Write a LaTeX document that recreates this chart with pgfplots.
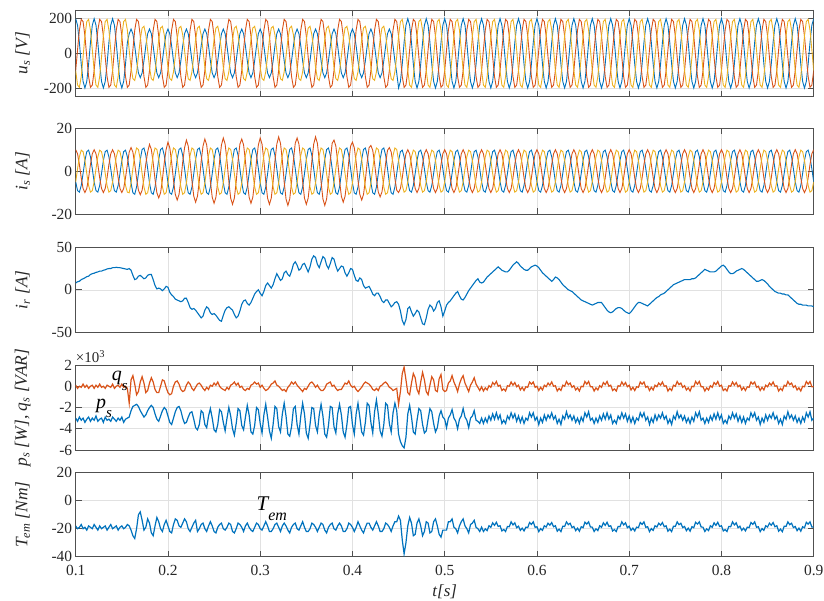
\documentclass[border=0pt]{standalone}
\usepackage{fontspec}
\setmainfont{Liberation Serif}
\usepackage{pgfplots}
\usepackage{pgfplotstable}
\pgfplotsset{compat=1.18}
\definecolor{mb}{RGB}{0,114,189}
\definecolor{mr}{RGB}{217,83,25}
\definecolor{my}{RGB}{237,177,32}
\definecolor{mg}{RGB}{225,225,225}
\definecolor{mf}{RGB}{80,80,80}
\pgfplotstableread{
t ub ur uy isr isy isb ir p q T
100 200 -100 -100 10 -5 -5 8 -3.0 0.1 -18
102 162 21 -183 8.1 1.1 -9.1 9.5 -3.3 -0.2 -20
104 62 134 -196 3.1 6.7 -9.8 10 -2.9 0.0 -19
106 -62 196 -134 -3.1 9.8 -6.7 12 -3.2 -0.1 -17
108 -162 183 -21 -8.1 9.1 -1.1 13 -3.0 0.2 -20
110 -200 100 100 -10 5 5 14 -3.4 -0.1 -19
112 -162 -21 183 -8.1 -1.1 9.1 15.5 -3.1 0.1 -21
114 -62 -134 196 -3.1 -6.7 9.8 16 -2.9 -0.2 -18
116 62 -196 134 3.1 -9.8 6.7 18 -3.3 0.0 -19
118 162 -183 21 8.1 -9.1 1.1 19 -3.0 0.1 -20
120 200 -100 -100 10 -5 -5 19.5 -3.2 -0.2 -17
122 162 21 -183 8.1 1.1 -9.1 20.5 -2.8 0.1 -19
124 62 134 -196 3.1 6.7 -9.8 21 -3.3 -0.1 -21
126 -62 196 -134 -3.1 9.8 -6.7 22 -3.1 0.2 -18
128 -162 183 -21 -8.1 9.1 -1.1 22 -3.0 -0.1 -20
130 -200 100 100 -10 5 5 23 -3.4 0.0 -19
132 -162 -21 183 -8.1 -1.1 9.1 23.5 -2.9 -0.2 -18
134 -62 -134 196 -3.1 -6.7 9.8 24.5 -3.2 0.1 -21
136 62 -196 134 3.1 -9.8 6.7 25 -3.1 0.0 -19
138 162 -183 21 8.1 -9.1 1.1 25 -3.3 -0.1 -17
140 200 -100 -100 10 -5 -5 26 -2.9 0.2 -20
142 162 21 -183 8.1 1.1 -9.1 26 -3.1 -0.2 -19
144 62 134 -196 3.1 6.7 -9.8 26.5 -3.3 0.0 -18
146 -62 196 -134 -3.1 9.8 -6.7 26 -3.0 0.1 -21
148 -162 183 -21 -8.1 9.1 -1.1 26 -3.2 -0.1 -19
150 -200 100 100 -10 5 5 25.5 -2.9 0.2 -18
152 -162 -21 183 -8.1 -1.1 9.1 25 -3.4 -0.1 -20
154 -62 -134 196 -3.1 -6.7 9.8 24.5 -3.1 0.0 -19
156 62 -196 134 3.1 -9.8 6.7 24 -3.0 -0.2 -17
158 113 -183 17 8.9 -10.1 1.2 25 -2.9 -1.6 -18
160 140 -100 -80 11 -5.5 -5.5 23 -2.3 0.6 -21
162 113 21 -146 8.9 1.2 -10.1 17 -1.9 1.0 -25
164 43 134 -156 3.4 7.4 -10.8 12 -1.8 0.2 -27
166 -43 196 -107 -3.4 10.8 -7.4 13 -1.7 -0.8 -20
168 -113 183 -17 -8.9 10.1 -1.2 16 -1.9 -0.5 -10
170 -140 100 80 -11 5.5 5.5 17 -2.3 0.4 -8
172 -113 -21 146 -8.9 -1.2 10.1 15 -2.6 0.9 -14
174 -43 -134 156 -3.4 -7.4 10.8 13 -2.9 0.3 -21
176 43 -196 107 3.4 -10.8 7.4 14 -2.7 -0.6 -19
178 113 -183 17 8.9 -10.1 1.2 17 -2.3 -0.4 -13
180 140 -100 -80 12.5 -5.5 -5.5 18 -2.0 0.3 -16
182 113 21 -146 10.1 1.2 -10.1 18 -1.8 0.8 -23
184 43 134 -156 3.9 7.4 -10.8 12 -2.0 0.4 -25
186 -43 196 -107 -3.9 10.8 -7.4 5 -2.6 -0.3 -18
188 -113 183 -17 -10.1 10.1 -1.2 1 -3.1 -0.6 -12
190 -140 100 80 -12.5 5.5 5.5 2 -3.3 -0.6 -15
192 -113 -21 146 -10.1 -1.2 10.1 1 -2.8 0.0 -20
194 -43 -134 156 -3.9 -7.4 10.8 -1 -2.3 0.6 -22
196 43 -196 107 3.9 -10.8 7.4 1 -2.0 0.5 -17
198 113 -183 17 10.1 -10.1 1.2 4 -2.2 -0.1 -14
200 140 -100 -80 13.5 -5.5 -5.5 3 -2.8 -0.6 -18
202 113 21 -146 10.9 1.2 -10.1 -3 -3.4 -0.8 -22
204 43 134 -156 4.2 7.4 -10.8 -6 -3.6 -0.7 -23
206 -43 196 -107 -4.2 10.8 -7.4 -8 -3.0 0.0 -17
208 -113 183 -17 -10.9 10.1 -1.2 -11 -2.4 0.4 -13
210 -140 100 80 -13.5 5.5 5.5 -12 -2.0 0.5 -14
212 -113 -21 146 -10.9 -1.2 10.1 -13 -1.9 0.2 -18
214 -43 -134 156 -4.2 -7.4 10.8 -14 -2.3 -0.3 -19
216 43 -196 107 4.2 -10.8 7.4 -13 -3.0 -0.5 -16
218 113 -183 17 10.9 -10.1 1.2 -10 -3.5 -0.4 -13
220 140 -100 -80 14.5 -5.5 -5.5 -10 -3.4 0.1 -15
222 113 21 -146 11.7 1.2 -10.1 -15 -2.9 0.4 -20
224 43 134 -156 4.5 7.4 -10.8 -21 -2.5 0.2 -22
226 -43 196 -107 -4.5 10.8 -7.4 -23 -2.4 -0.2 -19
228 -113 183 -17 -11.7 10.1 -1.2 -22 -3.1 -0.4 -16
230 -140 100 80 -14.5 5.5 5.5 -24 -3.9 -0.1 -14
232 -113 -21 146 -11.7 -1.2 10.1 -27 -4.1 0.2 -22
234 -43 -134 156 -4.5 -7.4 10.8 -30 -3.6 0.3 -20
236 43 -196 107 4.5 -10.8 7.4 -33 -2.3 0.1 -17
238 113 -183 17 11.7 -10.1 1.2 -31 -2.5 -0.2 -16
240 140 -100 -80 15 -5.5 -5.5 -24 -3.6 -0.4 -20
242 113 21 -146 12.2 1.2 -10.1 -20 -3.9 -0.1 -22
244 43 134 -156 4.7 7.4 -10.8 -22 -2.8 -0.3 -18
246 -43 196 -107 -4.7 10.8 -7.4 -27 -2.1 0.1 -15
248 -113 183 -17 -12.2 10.1 -1.2 -29 -3.0 0.0 -18
250 -140 100 80 -15 5.5 5.5 -28 -4.1 0.3 -22
252 -113 -21 146 -12.2 -1.2 10.1 -30 -4.3 0.1 -23
254 -43 -134 156 -4.7 -7.4 10.8 -33 -3.6 0.4 -19
256 43 -196 107 4.7 -10.8 7.4 -36 -2.2 0.0 -17
258 113 -183 17 12.2 -10.1 1.2 -37 -2.4 -0.2 -16
260 140 -100 -80 15.5 -5.5 -5.5 -30 -3.4 -0.3 -20
262 113 21 -146 12.6 1.2 -10.1 -24 -4.2 -0.4 -21
264 43 134 -156 4.8 7.4 -10.8 -21 -3.0 -0.1 -19
266 -43 196 -107 -4.8 10.8 -7.4 -20 -2.0 -0.3 -16
268 -113 183 -17 -12.6 10.1 -1.2 -22 -2.8 0.1 -17
270 -140 100 80 -15.5 5.5 5.5 -24 -4.0 0.2 -22
272 -113 -21 146 -12.6 -1.2 10.1 -29 -4.6 0.4 -23
274 -43 -134 156 -4.8 -7.4 10.8 -33 -3.5 0.1 -20
276 43 -196 107 4.8 -10.8 7.4 -31 -2.1 0.3 -16
278 113 -183 17 12.6 -10.1 1.2 -25 -2.3 -0.1 -17
280 140 -100 -80 15 -5.5 -5.5 -17 -3.7 0.0 -19
282 113 21 -146 12.2 1.2 -10.1 -13 -4.1 -0.3 -22
284 43 134 -156 4.7 7.4 -10.8 -12 -2.9 -0.4 -18
286 -43 196 -107 -4.7 10.8 -7.4 -16 -1.8 -0.2 -16
288 -113 183 -17 -12.2 10.1 -1.2 -18 -2.7 -0.3 -19
290 -140 100 80 -15 5.5 5.5 -15 -4.3 0.1 -21
292 -113 -21 146 -12.2 -1.2 10.1 -10 -4.5 0.2 -22
294 -43 -134 156 -4.7 -7.4 10.8 -5 -3.7 0.4 -19
296 43 -196 107 4.7 -10.8 7.4 -2 -2.0 0.2 -16
298 113 -183 17 12.2 -10.1 1.2 0 -2.2 0.3 -17
300 140 -100 -80 15.5 -5.5 -5.5 -4 -3.5 -0.1 -20
302 113 21 -146 12.6 1.2 -10.1 -7 -4.4 0.1 -21
304 43 134 -156 4.8 7.4 -10.8 -2 -2.7 -0.2 -18
306 -43 196 -107 -4.8 10.8 -7.4 5 -1.7 -0.4 -15
308 -113 183 -17 -12.6 10.1 -1.2 8 -2.9 -0.3 -18
310 -140 100 80 -15.5 5.5 5.5 5 -4.2 -0.1 -22
312 -113 -21 146 -12.6 -1.2 10.1 2 -4.9 0.2 -22
314 -43 -134 156 -4.8 -7.4 10.8 6 -3.6 0.3 -20
316 43 -196 107 4.8 -10.8 7.4 13 -1.9 0.5 -17
318 113 -183 17 12.6 -10.1 1.2 19 -2.1 0.1 -16
320 140 -100 -80 16 -5.5 -5.5 15 -3.8 0.0 -19
322 113 21 -146 13 1.2 -10.1 11 -4.3 -0.2 -22
324 43 134 -156 5 7.4 -10.8 13 -2.6 -0.4 -18
326 -43 196 -107 -5 10.8 -7.4 20 -1.6 -0.3 -16
328 -113 183 -17 -13 10.1 -1.2 22 -2.8 -0.5 -18
330 -140 100 80 -16 5.5 5.5 18 -4.5 -0.1 -21
332 -113 -21 146 -13 -1.2 10.1 16 -4.7 0.1 -23
334 -43 -134 156 -5 -7.4 10.8 22 -3.8 0.4 -19
336 43 -196 107 5 -10.8 7.4 30 -2.1 0.2 -17
338 113 -183 17 13 -10.1 1.2 33 -1.9 0.4 -16
340 140 -100 -80 15.5 -5.5 -5.5 29 -3.6 0.1 -20
342 113 21 -146 12.6 1.2 -10.1 23 -4.5 -0.1 -21
344 43 134 -156 4.8 7.4 -10.8 25 -2.8 -0.3 -18
346 -43 196 -107 -4.8 10.8 -7.4 30 -1.6 -0.5 -15
348 -113 183 -17 -12.6 10.1 -1.2 31 -2.6 -0.2 -19
350 -140 100 80 -15.5 5.5 5.5 26 -4.4 -0.3 -22
352 -113 -21 146 -12.6 -1.2 10.1 21 -4.9 0.0 -22
354 -43 -134 156 -4.8 -7.4 10.8 27 -3.6 0.3 -20
356 43 -196 107 4.8 -10.8 7.4 36 -2.0 0.4 -16
358 113 -183 17 12.6 -10.1 1.2 40 -2.1 0.2 -17
360 140 -100 -80 16 -5.5 -5.5 38 -3.7 -0.1 -19
362 113 21 -146 13 1.2 -10.1 30 -4.3 0.1 -22
364 43 134 -156 5 7.4 -10.8 26 -2.7 -0.2 -19
366 -43 196 -107 -5 10.8 -7.4 33 -1.7 -0.4 -16
368 -113 183 -17 -13 10.1 -1.2 39 -2.8 -0.4 -17
370 -140 100 80 -16 5.5 5.5 37 -4.5 -0.2 -21
372 -113 -21 146 -13 -1.2 10.1 29 -4.8 0.2 -23
374 -43 -134 156 -5 -7.4 10.8 25 -3.7 0.3 -19
376 43 -196 107 5 -10.8 7.4 31 -1.9 0.4 -17
378 113 -183 17 13 -10.1 1.2 38 -2.0 0.0 -16
380 140 -100 -80 14.5 -5.5 -5.5 36 -3.8 0.1 -20
382 113 21 -146 11.7 1.2 -10.1 28 -4.4 -0.2 -21
384 43 134 -156 4.5 7.4 -10.8 22 -2.6 -0.4 -18
386 -43 196 -107 -4.5 10.8 -7.4 25 -1.7 -0.3 -16
388 -113 183 -17 -11.7 10.1 -1.2 28 -2.7 -0.3 -18
390 -140 100 80 -14.5 5.5 5.5 27 -4.3 0.0 -22
392 -113 -21 146 -11.7 -1.2 10.1 20 -4.8 0.3 -22
394 -43 -134 156 -4.5 -7.4 10.8 16 -3.6 0.2 -20
396 43 -196 107 4.5 -10.8 7.4 20 -2.0 0.5 -16
398 113 -183 17 11.7 -10.1 1.2 25 -1.9 0.1 -17
400 140 -100 -80 13.5 -5.5 -5.5 24 -3.6 -0.1 -19
402 113 21 -146 10.9 1.2 -10.1 17 -4.5 0.0 -22
404 43 134 -156 4.2 7.4 -10.8 11 -2.6 -0.3 -19
406 -43 196 -107 -4.2 10.8 -7.4 10 -1.6 -0.5 -15
408 -113 183 -17 -10.9 10.1 -1.2 14 -2.9 -0.3 -18
410 -140 100 80 -13.5 5.5 5.5 12 -4.3 -0.1 -21
412 -113 -21 146 -10.9 -1.2 10.1 5 -4.6 0.2 -23
414 -43 -134 156 -4.2 -7.4 10.8 2 -3.4 0.4 -19
416 43 -196 107 4.2 -10.8 7.4 3 -1.6 0.3 -16
418 113 -183 17 10.9 -10.1 1.2 4 -1.8 0.2 -16
420 140 -100 -80 12 -5.5 -5.5 0 -3.4 0.0 -19
422 113 21 -146 9.7 1.2 -10.1 -5 -4.4 -0.3 -21
424 43 134 -156 3.7 7.4 -10.8 -7 -2.4 -0.4 -18
426 -43 196 -107 -3.7 10.8 -7.4 -4 -1.3 -0.2 -15
428 -113 183 -17 -9.7 10.1 -1.2 -4 -2.6 -0.4 -18
430 -140 100 80 -12 5.5 5.5 -8 -4.2 0.0 -22
432 -113 -21 146 -9.7 -1.2 10.1 -13 -4.7 0.1 -22
434 -43 -134 156 -3.7 -7.4 10.8 -15 -3.6 0.3 -20
436 43 -196 107 3.7 -10.8 7.4 -12 -1.6 0.4 -16
438 113 -183 17 9.7 -10.1 1.2 -12 -1.8 0.2 -17
440 140 -100 -80 11 -5.5 -5.5 -16 -3.5 -0.1 -19
442 113 21 -146 8.9 1.2 -10.1 -20 -4.3 -0.2 -22
444 43 134 -156 3.4 7.4 -10.8 -18 -2.5 -0.4 -18
446 -43 196 -107 -3.4 10.8 -7.4 -15 -1.6 -0.3 -15
448 -113 183 -17 -8.9 10.1 -1.2 -14 -2.3 -0.2 -15
450 -200 100 100 -10 5 5 -17 -4.5 -1.7 -11
452 -162 -21 183 -8.1 -1.1 9.1 -25 -5.2 -0.5 -14
454 -62 -134 196 -3.1 -6.7 9.8 -36 -5.6 1.2 -28
456 62 -196 134 3.1 -9.8 6.7 -41 -5.8 1.8 -38
458 162 -183 21 8.1 -9.1 1.1 -35 -4.8 0.6 -30
460 200 -100 -100 10 -5 -5 -22 -2.6 -0.6 -18
462 162 21 -183 8.1 1.1 -9.1 -20 -1.8 -0.8 -12
464 62 134 -196 3.1 6.7 -9.8 -26 -2.9 0.3 -16
466 -62 196 -134 -3.1 9.8 -6.7 -31 -4.3 1.2 -25
468 -162 183 -21 -8.1 9.1 -1.1 -28 -4.5 0.8 -24
470 -200 100 100 -10 5 5 -24 -3.2 -0.3 -16
472 -162 -21 183 -8.1 -1.1 9.1 -26 -2.1 -0.7 -13
474 -62 -134 196 -3.1 -6.7 9.8 -33 -2.3 0.4 -18
476 62 -196 134 3.1 -9.8 6.7 -40 -3.6 1.3 -25
478 162 -183 21 8.1 -9.1 1.1 -41 -4.4 0.6 -22
480 200 -100 -100 10 -5 -5 -33 -4.2 -0.5 -15
482 162 21 -183 8.1 1.1 -9.1 -23 -3.1 -0.8 -16
484 62 134 -196 3.1 6.7 -9.8 -18 -2.1 0.1 -23
486 -62 196 -134 -3.1 9.8 -6.7 -20 -2.4 0.9 -22
488 -162 183 -21 -8.1 9.1 -1.1 -25 -3.5 0.6 -15
490 -200 100 100 -10 5 5 -22 -4.3 -0.4 -13
492 -162 -21 183 -8.1 -1.1 9.1 -15 -3.9 -0.5 -18
494 -62 -134 196 -3.1 -6.7 9.8 -13 -2.8 0.7 -24
496 62 -196 134 3.1 -9.8 6.7 -20 -2.3 1.1 -26
498 162 -183 21 8.1 -9.1 1.1 -31 -2.9 -0.3 -21
500 200 -100 -100 10 -5 -5 -25 -3.1 -0.5 -21
502 162 21 -183 8.1 1.1 -9.1 -18 -3.9 -0.4 -21
504 62 134 -196 3.1 6.7 -9.8 -15 -3.0 0.3 -15
506 -62 196 -134 -3.1 9.8 -6.7 -13 -2.7 0.5 -15
508 -162 183 -21 -8.1 9.1 -1.1 -10 -2.2 1.0 -13
510 -200 100 100 -10 5 5 -7 -3.0 0.4 -19
512 -162 -21 183 -8.1 -1.1 9.1 -4 -3.3 0.0 -20
514 -62 -134 196 -3.1 -6.7 9.8 -2 -4.0 -0.5 -23
516 62 -196 134 3.1 -9.8 6.7 -7 -3.1 0.2 -18
518 162 -183 21 8.1 -9.1 1.1 -11 -2.8 0.7 -15
520 200 -100 -100 10 -5 -5 -12 -2.1 1.0 -13
522 162 21 -183 8.1 1.1 -9.1 -9 -2.9 0.3 -18
524 62 134 -196 3.1 6.7 -9.8 -5 -3.2 -0.1 -20
526 -62 196 -134 -3.1 9.8 -6.7 -1 -3.9 -0.5 -23
528 -162 183 -21 -8.1 9.1 -1.1 2 -3.0 0.1 -17
530 -200 100 100 -10 5 5 5 -2.8 0.4 -16
532 -162 -21 183 -8.1 -1.1 9.1 8 -2.3 0.8 -14
534 -62 -134 196 -3.1 -6.7 9.8 11 -3.2 0.2 -19
536 62 -196 134 3.1 -9.8 6.7 13 -3.3 -0.1 -20
538 162 -183 21 8.1 -9.1 1.1 9 -3.5 -0.4 -22
540 200 -100 -100 10 -5 -5 8 -3.0 -0.05 -18.9
542 162 21 -183 8.1 1.1 -9.1 9 -3.5 -0.45 -22.0
544 62 134 -196 3.1 6.7 -9.8 12 -3.0 -0.15 -20.1
546 -62 196 -134 -3.1 9.8 -6.7 15 -3.4 -0.35 -21.4
548 -162 183 -21 -8.1 9.1 -1.1 17 -2.8 0.05 -17.9
550 -200 100 100 -10 5 5 19 -3.2 -0.1 -19.0
552 -162 -21 183 -8.1 -1.1 9.1 21 -2.6 0.35 -15.8
554 -62 -134 196 -3.1 -6.7 9.8 23 -3.1 0.15 -17.6
556 62 -196 134 3.1 -9.8 6.7 25 -2.5 0.45 -15.4
558 162 -183 21 8.1 -9.1 1.1 27 -3.1 0.0 -18.4
560 200 -100 -100 10 -5 -5 25 -2.7 0.1 -17.9
562 162 21 -183 8.1 1.1 -9.1 23 -3.5 -0.4 -21.6
564 62 134 -196 3.1 6.7 -9.8 22 -3.2 -0.25 -20.6
566 -62 196 -134 -3.1 9.8 -6.7 21 -3.5 -0.45 -22.0
568 -162 183 -21 -8.1 9.1 -1.1 21 -2.8 0.05 -18.4
570 -200 100 100 -10 5 5 23 -3.1 0.0 -18.6
572 -162 -21 183 -8.1 -1.1 9.1 26 -2.5 0.4 -15.1
574 -62 -134 196 -3.1 -6.7 9.8 29 -3.0 0.1 -17.3
576 62 -196 134 3.1 -9.8 6.7 31 -2.6 0.35 -15.8
578 162 -183 21 8.1 -9.1 1.1 33 -3.3 -0.05 -19.3
580 200 -100 -100 10 -5 -5 31 -2.8 0.1 -18.2
582 162 21 -183 8.1 1.1 -9.1 28 -3.4 -0.35 -21.2
584 62 134 -196 3.1 6.7 -9.8 26 -2.9 -0.1 -19.6
586 -62 196 -134 -3.1 9.8 -6.7 24 -3.5 -0.4 -21.6
588 -162 183 -21 -8.1 9.1 -1.1 23 -3.0 -0.05 -18.9
590 -200 100 100 -10 5 5 23 -3.2 -0.1 -19.2
592 -162 -21 183 -8.1 -1.1 9.1 25 -2.5 0.4 -15.6
594 -62 -134 196 -3.1 -6.7 9.8 27 -2.9 0.2 -16.9
596 62 -196 134 3.1 -9.8 6.7 28 -2.5 0.4 -15.1
598 162 -183 21 8.1 -9.1 1.1 29 -3.2 -0.1 -19.0
600 200 -100 -100 10 -5 -5 28 -2.9 0.0 -18.6
602 162 21 -183 8.1 1.1 -9.1 26 -3.6 -0.4 -22.1
604 62 134 -196 3.1 6.7 -9.8 23 -3.0 -0.1 -19.9
606 -62 196 -134 -3.1 9.8 -6.7 20 -3.4 -0.35 -21.2
608 -162 183 -21 -8.1 9.1 -1.1 18 -2.7 0.1 -17.9
610 -200 100 100 -10 5 5 16 -3.2 -0.05 -18.8
612 -162 -21 183 -8.1 -1.1 9.1 14 -2.7 0.3 -16.1
614 -62 -134 196 -3.1 -6.7 9.8 12 -3.0 0.1 -17.5
616 62 -196 134 3.1 -9.8 6.7 10 -2.5 0.4 -15.6
618 162 -183 21 8.1 -9.1 1.1 12 -3.1 0.0 -18.6
620 200 -100 -100 10 -5 -5 15 -2.8 0.05 -17.9
622 162 21 -183 8.1 1.1 -9.1 14 -3.5 -0.45 -21.8
624 62 134 -196 3.1 6.7 -9.8 12 -3.1 -0.2 -20.3
626 -62 196 -134 -3.1 9.8 -6.7 9 -3.6 -0.4 -22.1
628 -162 183 -21 -8.1 9.1 -1.1 6 -2.8 0.1 -18.2
630 -200 100 100 -10 5 5 4 -3.1 0.0 -18.4
632 -162 -21 183 -8.1 -1.1 9.1 2 -2.4 0.45 -15.1
634 -62 -134 196 -3.1 -6.7 9.8 0 -3.0 0.15 -17.1
636 62 -196 134 3.1 -9.8 6.7 -1 -2.7 0.3 -16.1
638 162 -183 21 8.1 -9.1 1.1 -2 -3.2 -0.1 -19.2
640 200 -100 -100 10 -5 -5 -4 -2.8 0.05 -18.4
642 162 21 -183 8.1 1.1 -9.1 -6 -3.4 -0.35 -21.4
644 62 134 -196 3.1 6.7 -9.8 -8 -3.0 -0.15 -19.6
646 -62 196 -134 -3.1 9.8 -6.7 -10 -3.5 -0.45 -21.8
648 -162 183 -21 -8.1 9.1 -1.1 -12 -2.9 0.0 -18.6
650 -200 100 100 -10 5 5 -13 -3.3 -0.05 -19.3
652 -162 -21 183 -8.1 -1.1 9.1 -14 -2.5 0.45 -15.4
654 -62 -134 196 -3.1 -6.7 9.8 -15 -2.9 0.2 -16.7
656 62 -196 134 3.1 -9.8 6.7 -16 -2.4 0.45 -15.1
658 162 -183 21 8.1 -9.1 1.1 -17 -3.2 -0.05 -18.8
660 200 -100 -100 10 -5 -5 -18 -3.0 -0.05 -18.9
662 162 21 -183 8.1 1.1 -9.1 -17 -3.5 -0.45 -22.0
664 62 134 -196 3.1 6.7 -9.8 -16 -3.0 -0.15 -20.1
666 -62 196 -134 -3.1 9.8 -6.7 -15 -3.4 -0.35 -21.4
668 -162 183 -21 -8.1 9.1 -1.1 -15 -2.8 0.05 -17.9
670 -200 100 100 -10 5 5 -15 -3.2 -0.1 -19.0
672 -162 -21 183 -8.1 -1.1 9.1 -18 -2.6 0.35 -15.8
674 -62 -134 196 -3.1 -6.7 9.8 -21 -3.1 0.15 -17.6
676 62 -196 134 3.1 -9.8 6.7 -24 -2.5 0.45 -15.4
678 162 -183 21 8.1 -9.1 1.1 -26 -3.1 0.0 -18.4
680 200 -100 -100 10 -5 -5 -27 -2.7 0.1 -17.9
682 162 21 -183 8.1 1.1 -9.1 -26 -3.5 -0.4 -21.6
684 62 134 -196 3.1 6.7 -9.8 -24 -3.2 -0.25 -20.6
686 -62 196 -134 -3.1 9.8 -6.7 -22 -3.5 -0.45 -22.0
688 -162 183 -21 -8.1 9.1 -1.1 -21 -2.8 0.05 -18.4
690 -200 100 100 -10 5 5 -21 -3.1 0.0 -18.6
692 -162 -21 183 -8.1 -1.1 9.1 -22 -2.5 0.4 -15.1
694 -62 -134 196 -3.1 -6.7 9.8 -24 -3.0 0.1 -17.3
696 62 -196 134 3.1 -9.8 6.7 -26 -2.6 0.35 -15.8
698 162 -183 21 8.1 -9.1 1.1 -27 -3.3 -0.05 -19.3
700 200 -100 -100 10 -5 -5 -28 -2.8 0.1 -18.2
702 162 21 -183 8.1 1.1 -9.1 -26 -3.4 -0.35 -21.2
704 62 134 -196 3.1 6.7 -9.8 -23 -2.9 -0.1 -19.6
706 -62 196 -134 -3.1 9.8 -6.7 -20 -3.5 -0.4 -21.6
708 -162 183 -21 -8.1 9.1 -1.1 -17 -3.0 -0.05 -18.9
710 -200 100 100 -10 5 5 -15 -3.2 -0.1 -19.2
712 -162 -21 183 -8.1 -1.1 9.1 -15 -2.5 0.4 -15.6
714 -62 -134 196 -3.1 -6.7 9.8 -16 -2.9 0.2 -16.9
716 62 -196 134 3.1 -9.8 6.7 -17 -2.5 0.4 -15.1
718 162 -183 21 8.1 -9.1 1.1 -18 -3.2 -0.1 -19.0
720 200 -100 -100 10 -5 -5 -19 -2.9 0.0 -18.6
722 162 21 -183 8.1 1.1 -9.1 -17 -3.6 -0.4 -22.1
724 62 134 -196 3.1 6.7 -9.8 -15 -3.0 -0.1 -19.9
726 -62 196 -134 -3.1 9.8 -6.7 -13 -3.4 -0.35 -21.2
728 -162 183 -21 -8.1 9.1 -1.1 -11 -2.7 0.1 -17.9
730 -200 100 100 -10 5 5 -9 -3.2 -0.05 -18.8
732 -162 -21 183 -8.1 -1.1 9.1 -8 -2.7 0.3 -16.1
734 -62 -134 196 -3.1 -6.7 9.8 -6 -3.0 0.1 -17.5
736 62 -196 134 3.1 -9.8 6.7 -5 -2.5 0.4 -15.6
738 162 -183 21 8.1 -9.1 1.1 -4 -3.1 0.0 -18.6
740 200 -100 -100 10 -5 -5 -2 -2.8 0.05 -17.9
742 162 21 -183 8.1 1.1 -9.1 0 -3.5 -0.45 -21.8
744 62 134 -196 3.1 6.7 -9.8 2 -3.1 -0.2 -20.3
746 -62 196 -134 -3.1 9.8 -6.7 4 -3.6 -0.4 -22.1
748 -162 183 -21 -8.1 9.1 -1.1 6 -2.8 0.1 -18.2
750 -200 100 100 -10 5 5 7 -3.1 0.0 -18.4
752 -162 -21 183 -8.1 -1.1 9.1 8 -2.4 0.45 -15.1
754 -62 -134 196 -3.1 -6.7 9.8 9 -3.0 0.15 -17.1
756 62 -196 134 3.1 -9.8 6.7 10 -2.7 0.3 -16.1
758 162 -183 21 8.1 -9.1 1.1 11 -3.2 -0.1 -19.2
760 200 -100 -100 10 -5 -5 12 -2.8 0.05 -18.4
762 162 21 -183 8.1 1.1 -9.1 12 -3.4 -0.35 -21.4
764 62 134 -196 3.1 6.7 -9.8 12 -3.0 -0.15 -19.6
766 -62 196 -134 -3.1 9.8 -6.7 12 -3.5 -0.45 -21.8
768 -162 183 -21 -8.1 9.1 -1.1 13 -2.9 0.0 -18.6
770 -200 100 100 -10 5 5 13 -3.3 -0.05 -19.3
772 -162 -21 183 -8.1 -1.1 9.1 14 -2.5 0.45 -15.4
774 -62 -134 196 -3.1 -6.7 9.8 16 -2.9 0.2 -16.7
776 62 -196 134 3.1 -9.8 6.7 18 -2.4 0.45 -15.1
778 162 -183 21 8.1 -9.1 1.1 20 -3.2 -0.05 -18.8
780 200 -100 -100 10 -5 -5 22 -3.0 -0.05 -18.9
782 162 21 -183 8.1 1.1 -9.1 24 -3.5 -0.45 -22.0
784 62 134 -196 3.1 6.7 -9.8 23 -3.0 -0.15 -20.1
786 -62 196 -134 -3.1 9.8 -6.7 22 -3.4 -0.35 -21.4
788 -162 183 -21 -8.1 9.1 -1.1 21 -2.8 0.05 -17.9
790 -200 100 100 -10 5 5 21 -3.2 -0.1 -19.0
792 -162 -21 183 -8.1 -1.1 9.1 21 -2.6 0.35 -15.8
794 -62 -134 196 -3.1 -6.7 9.8 22 -3.1 0.15 -17.6
796 62 -196 134 3.1 -9.8 6.7 24 -2.5 0.45 -15.4
798 162 -183 21 8.1 -9.1 1.1 26 -3.1 0.0 -18.4
800 200 -100 -100 10 -5 -5 28 -2.7 0.1 -17.9
802 162 21 -183 8.1 1.1 -9.1 29 -3.5 -0.4 -21.6
804 62 134 -196 3.1 6.7 -9.8 27 -3.2 -0.25 -20.6
806 -62 196 -134 -3.1 9.8 -6.7 24 -3.5 -0.45 -22.0
808 -162 183 -21 -8.1 9.1 -1.1 21 -2.8 0.05 -18.4
810 -200 100 100 -10 5 5 19 -3.1 0.0 -18.6
812 -162 -21 183 -8.1 -1.1 9.1 19 -2.5 0.4 -15.1
814 -62 -134 196 -3.1 -6.7 9.8 20 -3.0 0.1 -17.3
816 62 -196 134 3.1 -9.8 6.7 22 -2.6 0.35 -15.8
818 162 -183 21 8.1 -9.1 1.1 23 -3.3 -0.05 -19.3
820 200 -100 -100 10 -5 -5 24 -2.8 0.1 -18.2
822 162 21 -183 8.1 1.1 -9.1 25 -3.4 -0.35 -21.2
824 62 134 -196 3.1 6.7 -9.8 24 -2.9 -0.1 -19.6
826 -62 196 -134 -3.1 9.8 -6.7 22 -3.5 -0.4 -21.6
828 -162 183 -21 -8.1 9.1 -1.1 20 -3.0 -0.05 -18.9
830 -200 100 100 -10 5 5 18 -3.2 -0.1 -19.2
832 -162 -21 183 -8.1 -1.1 9.1 16 -2.5 0.4 -15.6
834 -62 -134 196 -3.1 -6.7 9.8 14 -2.9 0.2 -16.9
836 62 -196 134 3.1 -9.8 6.7 12 -2.5 0.4 -15.1
838 162 -183 21 8.1 -9.1 1.1 10 -3.2 -0.1 -19.0
840 200 -100 -100 10 -5 -5 10 -2.9 0.0 -18.6
842 162 21 -183 8.1 1.1 -9.1 11 -3.6 -0.4 -22.1
844 62 134 -196 3.1 6.7 -9.8 12 -3.0 -0.1 -19.9
846 -62 196 -134 -3.1 9.8 -6.7 11 -3.4 -0.35 -21.2
848 -162 183 -21 -8.1 9.1 -1.1 9 -2.7 0.1 -17.9
850 -200 100 100 -10 5 5 7 -3.2 -0.05 -18.8
852 -162 -21 183 -8.1 -1.1 9.1 4 -2.7 0.3 -16.1
854 -62 -134 196 -3.1 -6.7 9.8 2 -3.0 0.1 -17.5
856 62 -196 134 3.1 -9.8 6.7 0 -2.5 0.4 -15.6
858 162 -183 21 8.1 -9.1 1.1 -2 -3.1 0.0 -18.6
860 200 -100 -100 10 -5 -5 -3 -2.8 0.05 -17.9
862 162 21 -183 8.1 1.1 -9.1 -4 -3.5 -0.45 -21.8
864 62 134 -196 3.1 6.7 -9.8 -4 -3.1 -0.2 -20.3
866 -62 196 -134 -3.1 9.8 -6.7 -5 -3.6 -0.4 -22.1
868 -162 183 -21 -8.1 9.1 -1.1 -5 -2.8 0.1 -18.2
870 -200 100 100 -10 5 5 -6 -3.1 0.0 -18.4
872 -162 -21 183 -8.1 -1.1 9.1 -6 -2.4 0.45 -15.1
874 -62 -134 196 -3.1 -6.7 9.8 -8 -3.0 0.15 -17.1
876 62 -196 134 3.1 -9.8 6.7 -10 -2.7 0.3 -16.1
878 162 -183 21 8.1 -9.1 1.1 -12 -3.2 -0.1 -19.2
880 200 -100 -100 10 -5 -5 -14 -2.8 0.05 -18.4
882 162 21 -183 8.1 1.1 -9.1 -16 -3.4 -0.35 -21.4
884 62 134 -196 3.1 6.7 -9.8 -17 -3.0 -0.15 -19.6
886 -62 196 -134 -3.1 9.8 -6.7 -17 -3.5 -0.45 -21.8
888 -162 183 -21 -8.1 9.1 -1.1 -18 -2.9 0.0 -18.6
890 -200 100 100 -10 5 5 -18 -3.3 -0.05 -19.3
892 -162 -21 183 -8.1 -1.1 9.1 -18 -2.5 0.45 -15.4
894 -62 -134 196 -3.1 -6.7 9.8 -19 -2.9 0.2 -16.7
896 62 -196 134 3.1 -9.8 6.7 -19 -2.4 0.45 -15.1
898 162 -183 21 8.1 -9.1 1.1 -19 -3.2 -0.05 -18.8
900 200 -100 -100 10 -5 -5 -20 -3.0 -0.05 -18.9
}\data
\pgfplotsset{
  base/.style={
    scale only axis, width=738bp, xmin=100, xmax=900,
    xtick={100,200,...,900}, xticklabels={},
    grid=major, grid style={mg, line width=0.5bp},
    axis line style={mf, line width=0.6bp},
    tick style={mf, line width=0.6bp},
    major tick length=6bp, tick align=inside,
    yticklabel style={font=\fontsize{15.5}{15.5}\selectfont, text=black!85},
    xticklabel style={font=\fontsize{15.5}{15.5}\selectfont, text=black!85},
    /pgf/number format/assume math mode=true,
    every axis y label/.style={at={(axis description cs:0,0.5)}, xshift=-53bp, rotate=90, anchor=center, font=\fontsize{17.5}{17.5}\selectfont\itshape, text=black!85},
  }
}
\begin{document}
\begin{tikzpicture}
\useasboundingbox (0,0) rectangle (824bp,601bp);
\begin{axis}[base, at={(75.7bp,504.3bp)}, height=86.7bp, ymin=-250, ymax=250, ytick={-200,0,200}, ylabel={u\textsubscript{s} [V]}]
\addplot[mb, line width=0.9bp] table[x=t,y=ub]{\data};
\addplot[mr, line width=0.9bp] table[x=t,y=ur]{\data};
\addplot[my, line width=0.9bp] table[x=t,y=uy]{\data};
\end{axis}
\begin{axis}[base, at={(75.7bp,387bp)}, height=85.7bp, ymin=-20, ymax=20, ytick={-20,0,20}, ylabel={i\textsubscript{s} [A]}]
\addplot[mb, line width=0.9bp] table[x=t,y=isb]{\data};
\addplot[mr, line width=0.9bp] table[x=t,y=isr]{\data};
\addplot[my, line width=0.9bp] table[x=t,y=isy]{\data};
\end{axis}
\begin{axis}[base, at={(75.7bp,268.7bp)}, height=85bp, ymin=-50, ymax=50, ytick={-50,0,50}, ylabel={i\textsubscript{r} [A]}]
\addplot[mb, line width=1.1bp] table[x=t,y=ir]{\data};
\end{axis}
\begin{axis}[base, name=a4, at={(75.7bp,151bp)}, height=85bp, ymin=-6, ymax=2, ytick={-6,-4,-2,0,2}, ylabel={p\textsubscript{s} [W], q\textsubscript{s} [VAR]}]
\addplot[mb, line width=1.2bp] table[x=t,y=p]{\data};
\addplot[mr, line width=1.2bp] table[x=t,y=q]{\data};
\node[anchor=base west, inner sep=0, font=\fontsize{20}{20}\selectfont\itshape] at (axis cs:139,0.56) {q\raisebox{-0.5em}{\fontsize{15}{15}\selectfont s}};
\node[anchor=base west, inner sep=0, font=\fontsize{20}{20}\selectfont\itshape] at (axis cs:122,-2.14) {p\raisebox{-0.45em}{\fontsize{15}{15}\selectfont s}};
\end{axis}
\node[anchor=south west, inner sep=0, font=\fontsize{15}{15}\selectfont, text=black!85] at ([yshift=2bp]a4.north west) {×10\textsuperscript{3}};
\begin{axis}[base, at={(75.7bp,44.3bp)}, height=84bp, ymin=-40, ymax=20, ytick={-40,-20,0,20}, ylabel={T\textsubscript{em} [Nm]},
  xticklabels={0.1,0.2,0.3,0.4,0.5,0.6,0.7,0.8,0.9}, xticklabel style={yshift=-5bp},
  xlabel={t[s]}, xlabel style={at={(axis description cs:0.5,0)}, yshift=-35bp, anchor=center, font=\fontsize{17}{17}\selectfont\itshape, text=black!85}]
\addplot[mb, line width=1.2bp] table[x=t,y=T]{\data};
\node[anchor=base west, inner sep=0, font=\fontsize{21}{21}\selectfont\itshape] at (axis cs:296,-7) {T\raisebox{-0.5em}{\fontsize{16}{16}\selectfont em}};
\end{axis}
\end{tikzpicture}
\end{document}
